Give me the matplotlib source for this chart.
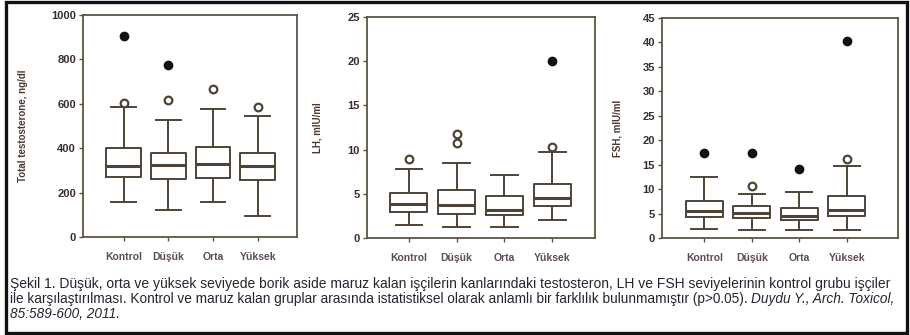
import matplotlib.pyplot as plt
import matplotlib.transforms as mtransforms
from matplotlib.patches import Rectangle

plt.rcParams["font.family"] = ["Liberation Sans", "DejaVu Sans"]

groups = ["Kontrol", "Düşük", "Orta", "Yüksek"]

# box statistics per panel: whisker low, q1, median, q3, whisker high
tt_low = [156, 121, 156, 95]
tt_q1 = [270, 261, 265, 258]
tt_med = [318, 326, 330, 321]
tt_q3 = [399, 379, 405, 379]
tt_high = [584, 527, 576, 543]
tt_out = [[603], [618], [667], [584]]
tt_ext = [[906], [773], [], []]

lh_low = [1.5, 1.3, 1.3, 2.0]
lh_q1 = [2.9, 2.7, 2.6, 3.6]
lh_med = [3.9, 3.75, 3.2, 4.5]
lh_q3 = [5.1, 5.45, 4.7, 6.1]
lh_high = [7.8, 8.5, 7.15, 9.7]
lh_out = [[8.9], [10.75, 11.8], [], [10.3]]
lh_ext = [[], [], [], [20.0]]

fsh_low = [1.9, 1.7, 1.7, 1.7]
fsh_q1 = [4.2, 4.0, 3.6, 4.45]
fsh_med = [5.5, 5.1, 4.45, 5.8]
fsh_q3 = [7.5, 6.5, 6.2, 8.6]
fsh_high = [12.4, 9.1, 9.4, 14.8]
fsh_out = [[], [10.7], [], [16.1]]
fsh_ext = [[17.4], [17.4], [14.2], [40.2]]

caption_1 = ("Şekil 1. Düşük, orta ve yüksek seviyede borik aside maruz kalan işçilerin "
             "kanlarındaki testosteron, LH ve FSH seviyelerinin kontrol grubu işçiler")
caption_2 = ("ile karşılaştırılması. Kontrol ve maruz kalan gruplar arasında istatistiksel "
             "olarak anlamlı bir farklılık bulunmamıştır (p>0.05). ")
caption_2i = "Duydu Y., Arch. Toxicol,"
caption_3i = "85:589-600, 2011."

line_col = "#4e4336"
spine_col = "#5f5345"
tick_col = "#3a2c2c"
xlab_col = "#5e4c58"

W, H = 910, 335
fig = plt.figure(figsize=(9.1, 3.35), dpi=100)


def px_axes(x0, y0, x1, y1):
    return fig.add_axes([x0 / W, 1 - y1 / H, (x1 - x0) / W, (y1 - y0) / H])


def panel(ax, low, q1, med, q3, high, outl, ext, ymax, step, xlim, ylabel, ylab_x):
    stats = []
    for i in range(len(groups)):
        stats.append(dict(whislo=low[i], q1=q1[i], med=med[i], q3=q3[i],
                          whishi=high[i], fliers=[], label=groups[i]))
    pos = [1, 2, 3, 4]
    ax.bxp(stats, positions=pos, widths=0.78, showfliers=False,
           boxprops=dict(color=line_col, linewidth=1.4),
           whiskerprops=dict(color=line_col, linewidth=1.4),
           capprops=dict(color=line_col, linewidth=1.4),
           medianprops=dict(color=line_col, linewidth=2.2),
           capwidths=0.55)
    for i, p in enumerate(pos):
        if outl[i]:
            ax.plot([p] * len(outl[i]), outl[i], "o", ms=5.5, mfc="white",
                    mec=line_col, mew=1.6)
        if ext[i]:
            ax.plot([p] * len(ext[i]), ext[i], "o", ms=6, mfc="#111111",
                    mec="#111111")
    ax.set_xlim(*xlim)
    ax.set_ylim(0, ymax)
    ax.set_yticks(range(0, ymax + 1, step))
    ax.set_xticks(pos)
    ax.set_xticklabels(groups, fontsize=7.5, color=xlab_col, fontweight="bold")
    for lbl in ax.get_yticklabels():
        lbl.set_fontsize(8)
        lbl.set_fontweight("bold")
        lbl.set_color(tick_col)
    # lift the zero label off the axis line
    zero = ax.get_yticklabels()[0]
    zero.set_transform(zero.get_transform() +
                       mtransforms.ScaledTranslation(0, 4 / 100, fig.dpi_scale_trans))
    ax.tick_params(axis="both", length=3, width=1, color=spine_col, pad=2)
    ax.tick_params(axis="x", pad=8)
    for s in ax.spines.values():
        s.set_color(spine_col)
        s.set_linewidth(1.3)
    ax.set_ylabel(ylabel, fontsize=7, color="#4a3a30", fontweight="bold")
    ax.yaxis.set_label_coords(ylab_x, 0.5)


ax1 = px_axes(83, 15, 297, 237)
panel(ax1, tt_low, tt_q1, tt_med, tt_q3, tt_high, tt_out, tt_ext,
      1000, 200, (0.09, 4.88), "Total testosterone, ng/dl", -55 / 214)

ax2 = px_axes(367, 17, 595, 238)
panel(ax2, lh_low, lh_q1, lh_med, lh_q3, lh_high, lh_out, lh_ext,
      25, 5, (0.13, 4.89), "LH, mIU/ml", -44 / 228)

ax3 = px_axes(662, 18, 898, 238)
panel(ax3, fsh_low, fsh_q1, fsh_med, fsh_q3, fsh_high, fsh_out, fsh_ext,
      45, 5, (0.11, 5.08), "FSH, mIU/ml", -40 / 236)

# caption below the panels
cap_kw = dict(color="#2a2230", va="baseline", ha="left")
fig.text(10 / W, 1 - 288 / H, caption_1, fontsize=10.0, **cap_kw)
t2 = fig.text(10 / W, 1 - 303 / H, caption_2, fontsize=9.85, **cap_kw)
t2i = fig.text(10 / W, 1 - 303 / H, caption_2i, fontsize=9.85, style="italic",
               **cap_kw)
fig.canvas.draw()
bb = t2.get_window_extent()
t2i.set_position((bb.x1 / W, 1 - 303 / H))
fig.text(10 / W, 1 - 318 / H, caption_3i, fontsize=9.85, style="italic", **cap_kw)

# frame around the whole figure
fig.patches.append(Rectangle((6 / W, 1 - 333 / H), 901 / W, 331 / H,
                             transform=fig.transFigure, fill=False,
                             edgecolor="#111111", linewidth=2.4))

fig.savefig("out.png", dpi=100)
